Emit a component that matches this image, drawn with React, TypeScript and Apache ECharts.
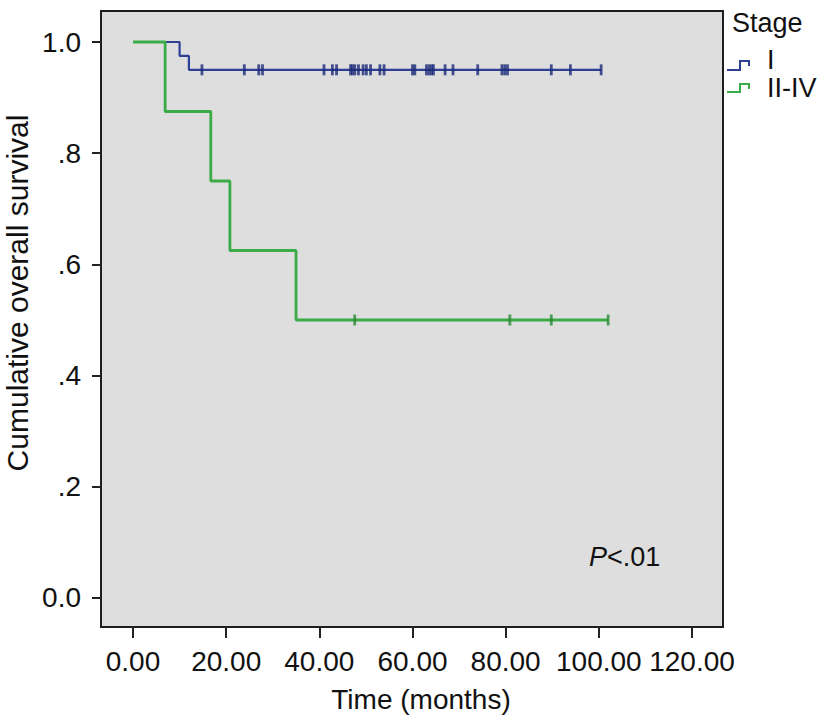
import React, { useEffect, useRef } from "react";
import * as echarts from "echarts";

// Kaplan-Meier step data
const stageITimes = [0, 10, 12, 100.5];
const stageISurvival = [1, 0.975, 0.95, 0.95];
const stageICensored = [
  14.8, 23.9, 27.0, 27.8, 41.0, 42.8, 43.7, 46.7, 47.1, 47.6, 48.4, 49.4, 50.1, 51.0,
  53.0, 53.9, 60.0, 60.5, 63.0, 63.6, 64.1, 64.5, 67.0, 68.7, 74.0, 79.2, 79.8, 80.4,
  89.8, 93.9, 100.5,
];
const stageIIIVTimes = [0, 6.9, 16.7, 20.8, 35.0, 102];
const stageIIIVSurvival = [1, 0.875, 0.75, 0.625, 0.5, 0.5];
const stageIIIVCensored = [47.6, 80.9, 89.8, 102];

const xTickValues = [0, 20, 40, 60, 80, 100, 120];
const yTickValues = [0, 0.2, 0.4, 0.6, 0.8, 1.0];
const yTickLabels = ["0.0", ".2", ".4", ".6", ".8", "1.0"];
const legendNames = ["I", "II-IV"];

const FONT = "'Liberation Sans', Arial, sans-serif";
const BLUE = "#2f3f94";
const BLUE_DARK = "#1c2a78";
const GREEN = "#3aab46";
const GREEN_DARK = "#268a33";

function survAt(times: number[], surv: number[], t: number) {
  let s = surv[0];
  for (let i = 0; i < times.length; i++) if (times[i] <= t) s = surv[i];
  return s;
}

export default function App() {
  const ref = useRef<HTMLDivElement>(null);
  useEffect(() => {
    if (!ref.current) return;
    const chart = echarts.init(ref.current, null, { renderer: "svg" });
    const blueLine = stageITimes.map((t, i) => [t, stageISurvival[i]]);
    const greenLine = stageIIIVTimes.map((t, i) => [t, stageIIIVSurvival[i]]);
    const blueCens = stageICensored.map((t) => [t, survAt(stageITimes, stageISurvival, t)]);
    const greenCens = stageIIIVCensored.map((t) => [t, survAt(stageIIIVTimes, stageIIIVSurvival, t)]);

    chart.setOption({
      animation: false,
      backgroundColor: "#ffffff",
      textStyle: { fontFamily: FONT },
      grid: {
        left: 101,
        right: 97,
        top: 11,
        bottom: 93,
        containLabel: false,
        show: true,
        backgroundColor: "#dedede",
        borderColor: "#1e1e1e",
        borderWidth: 2,
      },
      xAxis: {
        type: "value",
        min: -6.87,
        max: 126.66,
        axisLine: { show: true, onZero: false, lineStyle: { color: "#1e1e1e", width: 2 } },
        axisTick: {
          show: true,
          length: 11,
          customValues: xTickValues,
          lineStyle: { color: "#222", width: 2 },
        },
        splitLine: { show: false },
        axisLabel: {
          customValues: xTickValues,
          margin: 20,
          fontSize: 28,
          color: "#111",
          fontFamily: FONT,
          formatter: (v: number) => v.toFixed(2),
        },
      },
      yAxis: {
        type: "value",
        min: -0.0522,
        max: 1.0558,
        axisLine: { show: true, onZero: false, lineStyle: { color: "#1e1e1e", width: 2 } },
        axisTick: {
          show: true,
          length: 9,
          customValues: yTickValues,
          lineStyle: { color: "#222", width: 2 },
        },
        splitLine: { show: false },
        axisLabel: {
          customValues: yTickValues,
          margin: 20,
          fontSize: 28,
          color: "#111",
          fontFamily: FONT,
          formatter: (v: number) => yTickLabels[Math.round(v * 5)] ?? "",
        },
      },
      graphic: [
        {
          type: "text",
          z: 10,
          x: 17,
          y: 293,
          rotation: Math.PI / 2,
          style: {
            text: "Cumulative overall survival",
            fontSize: 30,
            fontFamily: FONT,
            fill: "#111",
            align: "center",
            verticalAlign: "middle",
          },
        },
        {
          type: "text",
          z: 10,
          x: 421,
          y: 699,
          style: {
            text: "Time (months)",
            fontSize: 28,
            fontFamily: FONT,
            fill: "#111",
            align: "center",
            verticalAlign: "middle",
          },
        },
        {
          type: "text",
          z: 10,
          x: 589,
          y: 557,
          style: {
            text: "{p|P}<.01",
            fontSize: 27,
            fontFamily: FONT,
            fill: "#111",
            verticalAlign: "middle",
            rich: { p: { fontStyle: "italic", fontSize: 27, fontFamily: FONT, fill: "#111" } },
          },
        },
        {
          type: "text",
          z: 10,
          x: 732,
          y: 23,
          style: { text: "Stage", fontSize: 27, fontFamily: FONT, fill: "#111", verticalAlign: "middle" },
        },
        {
          type: "polyline",
          z: 10,
          shape: { points: [[727, 70], [740, 70], [740, 61], [749, 61], [749, 66]] },
          style: { stroke: BLUE, lineWidth: 2, fill: null },
        },
        {
          type: "text",
          z: 10,
          x: 767,
          y: 60,
          style: { text: legendNames[0], fontSize: 27, fontFamily: FONT, fill: "#111", verticalAlign: "middle" },
        },
        {
          type: "polyline",
          z: 10,
          shape: { points: [[727, 92], [740, 92], [740, 84], [749, 84], [749, 89]] },
          style: { stroke: GREEN, lineWidth: 2, fill: null },
        },
        {
          type: "text",
          z: 10,
          x: 767,
          y: 88,
          style: { text: legendNames[1], fontSize: 27, fontFamily: FONT, fill: "#111", verticalAlign: "middle" },
        },
      ],
      series: [
        {
          name: legendNames[0],
          type: "line",
          step: "end",
          z: 3,
          clip: false,
          showSymbol: false,
          data: blueLine,
          lineStyle: { color: BLUE, width: 2.2 },
          itemStyle: { color: BLUE },
        },
        {
          name: legendNames[0] + " censored",
          type: "scatter",
          z: 4,
          symbol: "rect",
          symbolSize: [2.8, 11],
          data: blueCens,
          itemStyle: { color: BLUE_DARK },
        },
        {
          name: legendNames[1],
          type: "line",
          step: "end",
          z: 5,
          clip: false,
          showSymbol: false,
          data: greenLine,
          lineStyle: { color: GREEN, width: 2.8 },
          itemStyle: { color: GREEN },
        },
        {
          name: legendNames[1] + " censored",
          type: "scatter",
          z: 6,
          symbol: "rect",
          symbolSize: [2.8, 11],
          data: greenCens,
          itemStyle: { color: GREEN_DARK },
        },
      ],
    });
    return () => chart.dispose();
  }, []);
  return (
    <div
      ref={ref}
      style={{ position: "absolute", left: 0, top: 0, width: 820, height: 720 }}
    />
  );
}
